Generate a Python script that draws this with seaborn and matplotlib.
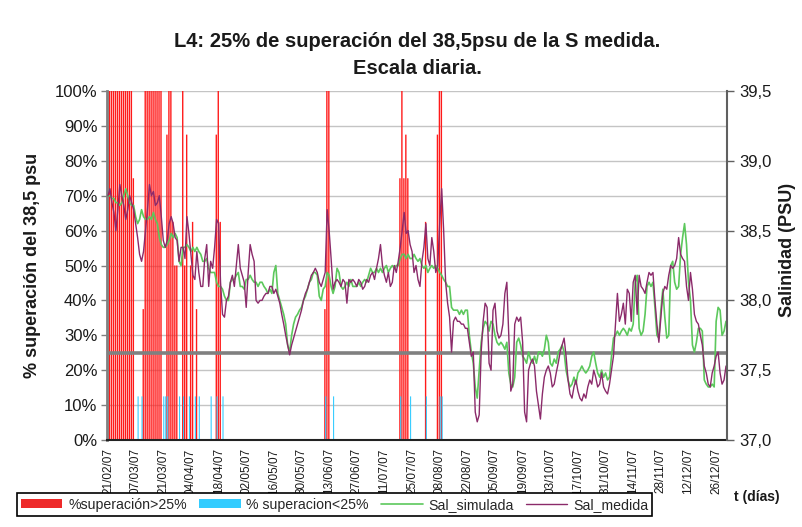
import numpy as np
import pandas as pd
import matplotlib
matplotlib.use("Agg")
import matplotlib.pyplot as plt
import seaborn as sns
from matplotlib.patches import Patch
from matplotlib.lines import Line2D

# ---------------- data ----------------
# daily series from 21/02/2007 to 31/12/2007 (314 days)
tick_labels = ["21/02/07", "07/03/07", "21/03/07", "04/04/07", "18/04/07", "02/05/07",
               "16/05/07", "30/05/07", "13/06/07", "27/06/07", "11/07/07", "25/07/07",
               "08/08/07", "22/08/07", "05/09/07", "19/09/07", "03/10/07", "17/10/07",
               "31/10/07", "14/11/07", "28/11/07", "12/12/07", "26/12/07"]

sal_medida = [
    38.75, 38.80, 38.70, 38.63, 38.50, 38.65, 38.83, 38.75, 38.68, 38.58, 38.65, 38.75, 38.70, 38.65,
    38.55, 38.45, 38.33, 38.28, 38.35, 38.50, 38.65, 38.83,
    38.75, 38.78, 38.68, 38.70, 38.75, 38.60, 38.43, 38.38,
    38.43, 38.55, 38.60, 38.55, 38.45, 38.43, 38.28, 38.38,
    38.38, 38.30, 38.60, 38.48, 38.33, 38.18, 38.15, 38.35,
    38.20, 38.10, 38.10, 38.30, 38.40, 38.10, 38.28, 38.23,
    38.38, 38.58, 38.55, 38.13, 37.90, 37.88, 38.00, 38.03,
    38.13, 38.18, 38.10, 38.25, 38.40, 38.23, 38.18, 38.13,
    37.95, 38.20, 38.40, 38.33, 38.28, 38.00, 37.98, 38.00,
    38.00, 38.03, 38.05, 38.05, 38.10, 38.10, 38.05, 38.08,
    38.03, 37.98, 37.90, 37.83, 37.75, 37.68, 37.61, 37.68,
    37.73, 37.78, 37.83, 37.88, 37.93, 38.00, 38.05, 38.08,
    38.13, 38.18, 38.20, 38.23, 38.20, 38.13, 38.10, 38.15,
    38.20, 38.65, 38.50, 38.30, 38.08, 38.13, 38.15, 38.13,
    38.10, 38.15, 38.13, 37.98, 38.15, 38.13, 38.15, 38.13,
    38.10, 38.15, 38.13, 38.08, 38.10, 38.15, 38.13, 38.18,
    38.20, 38.15, 38.23, 38.30, 38.40, 38.25, 38.18, 38.13,
    38.20, 38.10, 38.13, 38.25, 38.20, 38.28, 38.38, 38.50,
    38.63, 38.48, 38.50, 38.40, 38.35, 38.20, 38.25, 38.15,
    38.10, 38.28, 38.38, 38.55, 38.30, 38.25, 38.45, 38.35,
    38.20, 38.25, 38.55, 38.80, 38.50, 38.13, 37.98, 37.88,
    37.63, 37.85, 37.88, 37.85, 37.85, 37.83, 37.83, 37.80,
    37.80, 37.70, 37.60, 37.63, 37.20, 37.13, 37.18, 37.63,
    37.85, 37.98, 37.95, 37.55, 37.50, 37.93, 37.98, 37.78,
    37.73, 37.75, 37.83, 38.05, 38.13, 37.75, 37.35, 37.40,
    37.83, 37.88, 37.85, 37.88, 37.70, 37.20, 37.13, 37.50,
    37.55, 37.58, 37.53, 37.35, 37.25, 37.15, 37.33, 37.45,
    37.50, 37.53, 37.48, 37.38, 37.40, 37.48, 37.55, 37.63,
    37.68, 37.73, 37.60, 37.43, 37.33, 37.30, 37.38, 37.43,
    37.35, 37.30, 37.28, 37.33, 37.30, 37.38, 37.43, 37.40,
    37.50, 37.45, 37.38, 37.40, 37.48, 37.38, 37.35, 37.33,
    37.40, 37.50, 37.60, 37.83, 38.05, 37.85, 37.90, 37.98,
    37.83, 38.08, 38.05, 37.85, 38.13, 38.18, 37.90, 38.18,
    38.10, 38.08, 38.05, 38.13, 38.20, 38.18, 38.20, 38.00,
    37.83, 37.70, 37.88, 38.05, 38.10, 38.08, 38.18, 38.25,
    38.23, 38.25, 38.30, 38.45, 38.33, 38.30, 38.28, 38.10,
    38.00, 38.20, 38.08, 37.90, 37.85, 37.83, 37.75, 37.68,
    37.53, 37.48, 37.40, 37.38, 37.48, 37.53, 37.60, 37.63,
    37.48, 37.40, 37.43, 37.53,
]

sal_simulada = [
    38.75, 38.75, 38.73, 38.73, 38.70, 38.70, 38.68, 38.70,
    38.75, 38.80, 38.75, 38.70, 38.68, 38.68,
    38.60, 38.55, 38.58, 38.65, 38.60, 38.58, 38.58, 38.60,
    38.58, 38.63, 38.58, 38.55, 38.45, 38.40, 38.38, 38.38,
    38.40, 38.43, 38.48, 38.45, 38.48, 38.45, 38.28, 38.25,
    38.38, 38.38, 38.40, 38.38, 38.35, 38.38, 38.35, 38.38,
    38.35, 38.33, 38.28, 38.28, 38.30, 38.23, 38.20, 38.20,
    38.20, 38.13, 38.10, 38.10, 38.08, 38.03, 38.00, 38.00,
    38.13, 38.15, 38.15, 38.18, 38.20, 38.10, 38.10, 38.08,
    38.15, 38.15, 38.18, 38.15, 38.13, 38.13, 38.10, 38.13,
    38.13, 38.10, 38.08, 38.05, 38.08, 38.05, 38.20, 38.25,
    38.05, 38.00, 37.95, 37.90, 37.83, 37.68, 37.63, 37.75,
    37.83, 37.88, 37.90, 37.93, 37.95, 38.00, 38.03, 38.08,
    38.13, 38.15, 38.20, 38.20, 38.18, 38.03, 38.00, 38.08,
    38.10, 38.20, 38.18, 38.10, 38.05, 38.10, 38.23, 38.20,
    38.10, 38.08, 38.10, 38.13, 38.10, 38.15, 38.10, 38.10,
    38.10, 38.13, 38.10, 38.13, 38.15, 38.13, 38.18, 38.23,
    38.20, 38.20, 38.23, 38.20, 38.23, 38.20, 38.23, 38.25,
    38.20, 38.23, 38.25, 38.23, 38.25, 38.25, 38.30, 38.33,
    38.33, 38.30, 38.33, 38.30, 38.30, 38.33, 38.30, 38.28,
    38.30, 38.25, 38.23, 38.25, 38.20, 38.23, 38.25, 38.23,
    38.25, 38.23, 38.20, 38.18, 38.15, 38.13, 38.10, 38.10,
    37.95, 37.93, 37.93, 37.93, 37.90, 37.93, 37.90, 37.93,
    37.93, 37.75, 37.63, 37.55, 37.38, 37.30, 37.50, 37.70,
    37.80, 37.85, 37.83, 37.78, 37.85, 37.83, 37.75, 37.70,
    37.68, 37.70, 37.68, 37.65, 37.70, 37.48, 37.40, 37.38,
    37.45, 37.70, 37.73, 37.68, 37.60, 37.58, 37.55, 37.63,
    37.58, 37.55, 37.60, 37.55, 37.63, 37.63, 37.60, 37.65,
    37.75, 37.70, 37.55, 37.53, 37.58, 37.55, 37.63, 37.65,
    37.68, 37.63, 37.50, 37.43, 37.38, 37.40, 37.45, 37.40,
    37.48, 37.50, 37.53, 37.50, 37.48, 37.50, 37.53, 37.60,
    37.63, 37.55, 37.48, 37.45, 37.50, 37.45, 37.48, 37.43,
    37.45, 37.60, 37.73, 37.75, 37.78, 37.75, 37.78, 37.80,
    37.78, 37.75, 37.80, 37.78, 37.83, 38.13, 38.18, 37.80,
    37.75, 37.78, 37.90, 38.10, 38.13, 38.10, 38.13, 37.95,
    37.75, 37.73, 37.93, 38.08, 37.88, 37.73, 37.75, 38.25,
    38.28, 38.13, 38.08, 38.10, 38.33, 38.45, 38.55, 38.40,
    38.13, 38.00, 37.68, 37.63, 37.70, 37.80, 37.80, 37.78,
    37.43, 37.40, 37.38, 37.38, 37.40, 37.38, 37.85, 37.95,
    37.93, 37.75, 37.78, 37.85,
]

# daily % of exceedance (day index counted from 21/02/2007)
red_days = [0, 1, 2, 3, 4, 5, 6, 7, 8, 9, 10, 11, 12, 13, 18, 19, 20, 21, 22, 23, 24, 25, 26, 27,
            30, 31, 32, 33, 34, 35, 38, 39, 40, 42, 43, 45, 55, 56, 57,
            110, 111, 112, 148, 149, 150, 151, 152, 161, 167, 168, 169]
red_pct = [100, 100, 100, 100, 100, 100, 100, 100, 100, 100, 100, 100, 100, 75, 37.5,
           100, 100, 100, 100, 100, 100, 100, 100, 100,
           87.5, 100, 100, 62.5, 50, 50, 100, 50, 87.5, 50, 62.5, 37.5, 87.5, 100, 62.5,
           37.5, 100, 100, 75, 100, 75, 87.5, 75, 62.5, 87.5, 100, 100]
blue_days = [15, 17, 28, 29, 30, 36, 38, 41, 44, 46, 52, 55, 58,
             110, 114, 148, 153, 161, 168, 169]
blue_pct = [12.5] * len(blue_days)
umbral_pct = 25

# ---------------- style ----------------
sns.set_theme(style="white")
plt.rcParams['font.family'] = ['Liberation Sans', 'DejaVu Sans']
narrow = ['Liberation Sans Narrow', 'Liberation Sans', 'DejaVu Sans']

RED = '#ff1a1a'
BLUE = '#33ccff'
GREEN = '#5cc85c'
PURPLE = '#8b2a6a'
TXT = '#1a1a1a'

W, H = 802, 527
fig = plt.figure(figsize=(W / 100, H / 100), dpi=100)
fig.patch.set_facecolor('white')
ax = fig.add_axes([107 / W, 1 - 440 / H, 620 / W, 349 / H])

n = len(sal_medida)
days = np.arange(n)

ax.bar(np.array(red_days) - 0.15, red_pct, width=0.7, color=RED, edgecolor='none',
       linewidth=0, snap=False, zorder=2)
ax.bar(np.array(blue_days) + 0.25, blue_pct, width=0.55, color=BLUE, edgecolor='none',
       linewidth=0, snap=False, zorder=2)
ax.axhline(umbral_pct, color='#808080', lw=2.6, zorder=3)

ax.set_xlim(-0.5, n - 0.5)
ax.set_ylim(0, 100)
yt = list(range(0, 101, 10))
ax.set_yticks(yt)
ax.set_yticklabels([f"{v}%" for v in yt])
ax.yaxis.grid(True, color='#c4c4c4', lw=1.0)
ax.xaxis.grid(False)
ax.set_axisbelow(True)
ax.set_xticks(np.arange(0, n, 14)[:len(tick_labels)])
ax.set_xticklabels(tick_labels, rotation=90, fontsize=8.5, family=narrow, color=TXT)
ax.tick_params(axis='x', direction='out', length=4, width=1, color='#222222', pad=2)
ax.tick_params(axis='y', direction='out', length=4, width=1, color='#808080',
               labelsize=12, labelcolor=TXT, pad=3)
for s in ['top', 'right']:
    ax.spines[s].set_visible(False)
ax.spines['left'].set_color('#808080')
ax.spines['left'].set_linewidth(2)
ax.spines['bottom'].set_color('#222222')
ax.spines['bottom'].set_linewidth(1.5)
ax.set_xlabel('')
ax.set_ylabel('')

ax2 = ax.twinx()
df = pd.DataFrame({'day': days, 'Sal_simulada': sal_simulada, 'Sal_medida': sal_medida})
sns.lineplot(data=df, x='day', y='Sal_simulada', ax=ax2, color=GREEN, lw=1.2, legend=False)
sns.lineplot(data=df, x='day', y='Sal_medida', ax=ax2, color=PURPLE, lw=1.0, legend=False)
ax2.set_ylim(37, 39.5)
ax2.set_xlim(-0.5, n - 0.5)
rt = [37.0, 37.5, 38.0, 38.5, 39.0, 39.5]
ax2.set_yticks(rt)
ax2.set_yticklabels([f"{v:.1f}".replace('.', ',') for v in rt])
ax2.grid(False)
ax2.tick_params(axis='y', direction='out', length=5, width=1, color='#606060',
                labelsize=12, labelcolor=TXT, pad=4)
for s in ['top', 'left', 'bottom']:
    ax2.spines[s].set_visible(False)
ax2.spines['right'].set_color('#606060')
ax2.spines['right'].set_linewidth(1.5)
ax2.set_xlabel('')
ax2.set_ylabel('')

# ---------------- texts ----------------
fig.text(417 / W, 1 - 55 / H, "L4: 25% de superación del 38,5psu de la S medida.\nEscala diaria.",
         ha='center', va='center', fontsize=14.5, fontweight='bold', color=TXT, linespacing=1.5)
fig.text(33 / W, 1 - 265 / H, "% superación del 38,5 psu", rotation=90, ha='center', va='center',
         fontsize=13, fontweight='bold', color=TXT)
fig.text(787 / W, 1 - 250 / H, "Salinidad (PSU)", rotation=90, ha='center', va='center',
         fontsize=13, fontweight='bold', color=TXT)
fig.text(757 / W, 1 - 497 / H, "t (días)", ha='center', va='center',
         fontsize=10, fontweight='bold', color=TXT)

handles = [Patch(facecolor='#ee2a2a', edgecolor='none'),
           Patch(facecolor=BLUE, edgecolor='none'),
           Line2D([], [], color=GREEN, lw=1.2),
           Line2D([], [], color=PURPLE, lw=1.0)]
labels = ["%superación>25%", "% superacion<25%", "Sal_simulada", "Sal_medida"]
leg = fig.legend(handles, labels, loc='lower left', bbox_to_anchor=(10 / W, 1 - 523 / H),
                 ncol=4, frameon=True, fancybox=False, framealpha=1, edgecolor='black',
                 borderpad=0.3, handlelength=2.9, handleheight=0.6, handletextpad=0.4,
                 columnspacing=0.9, prop={'family': narrow, 'size': 10.2})
leg.get_frame().set_linewidth(1.2)

fig.savefig("out.png", dpi=100)
